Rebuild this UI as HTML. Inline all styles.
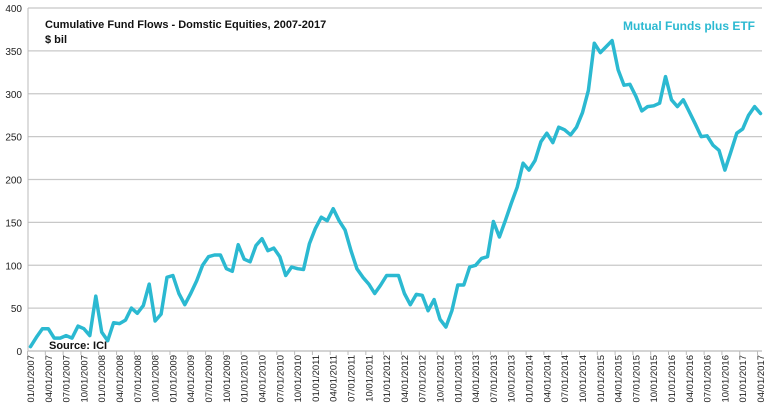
<!DOCTYPE html>
<html><head><meta charset="utf-8"><style>
body{margin:0;background:#fff;}
svg{display:block;font-family:"Liberation Sans",sans-serif;}
</style></head><body>
<svg id="chart" width="772" height="408">
<g id="grid"></g>
<g id="yaxis"></g>
<g id="xaxis"></g>
<path id="line" fill="none" stroke="#2bb9d1" stroke-width="3.5" stroke-linejoin="round" stroke-linecap="round"/>
<text x="45" y="28" font-size="11" font-weight="bold" fill="#111">Cumulative Fund Flows - Domstic Equities, 2007-2017</text>
<text x="45" y="43" font-size="11" font-weight="bold" fill="#111">$ bil</text>
<text x="49" y="349" font-size="11" font-weight="bold" fill="#111">Source: ICI</text>
<text x="755" y="30" font-size="12" font-weight="bold" fill="#2bb9d1" text-anchor="end">Mutual Funds plus ETF</text>
</svg>
<script>
const values=[5,16,26,26,15,15,18,15,29,26,18,64,22,12,33,32,36,50,44,53,78,35,43,86,88,67,54,67,82,100,110,112,112,96,93,124,107,104,123,131,117,120,110,88,98,96,95,125,143,156,152,166,152,141,117,96,86,78,67,77,88,88,88,67,54,66,65,47,60,37,28,47,77,77,98,100,108,110,151,133,152,172,191,219,211,222,244,254,243,261,258,252,261,278,304,359,348,355,362,328,310,311,297,280,285,286,289,320,293,285,293,279,265,250,251,240,234,211,232,254,259,275,285,277];
const yTicks=[0,50,100,150,200,250,300,350,400];
const startYear=2007, startMonth=1;
const NS="http://www.w3.org/2000/svg";
const x0=30.5,x1=760.5,yTop=8,yBot=351;
const n=values.length;
const step=(x1-x0)/(n-1);
const xs=i=>x0+i*step;
const ys=v=>yBot-(v/400)*(yBot-yTop);
function mk(tag,attrs,parent){const e=document.createElementNS(NS,tag);for(const k in attrs)e.setAttribute(k,attrs[k]);parent.appendChild(e);return e;}
const grid=document.getElementById('grid'),ya=document.getElementById('yaxis'),xa=document.getElementById('xaxis');
yTicks.forEach(t=>{
  if(t>0){const g=mk('line',{x1:28,x2:762,y1:ys(t),y2:ys(t),stroke:'#c8c8c8','stroke-width':1.3},grid);
  
  }
  const tx=mk('text',{x:22,y:ys(t)+4,'font-size':10,'text-anchor':'end',fill:'#222'},ya);
  tx.textContent=t;
  
  
});
const ax=mk('line',{x1:28,x2:28,y1:yTop,y2:yBot,stroke:'#bbb','stroke-width':1},ya);


const bx=mk('line',{x1:28,x2:762,y1:yBot,y2:yBot,stroke:'#bbb','stroke-width':1.3},xa);


for(let i=0;i<n;i+=3){
  const tk=mk('line',{x1:xs(i)-step/2,x2:xs(i)-step/2,y1:yBot,y2:yBot+4,stroke:'#bbb'},xa);
  
  
  const m=(startMonth-1+i)%12+1, y=startYear+Math.floor((startMonth-1+i)/12);
  const lab=(m<10?'0':'')+m+'/01/'+y;
  const px=xs(i)+3.5;
  const t=mk('text',{x:0,y:0,'font-size':9.5,'text-anchor':'end',fill:'#222',transform:`translate(${px},355) rotate(-90)`},xa);
  t.textContent=lab;
  
  
}
document.getElementById('line').setAttribute('d',values.map((v,i)=>(i?'L':'M')+xs(i).toFixed(1)+' '+ys(v).toFixed(1)).join(' '));
</script>
</body></html>
